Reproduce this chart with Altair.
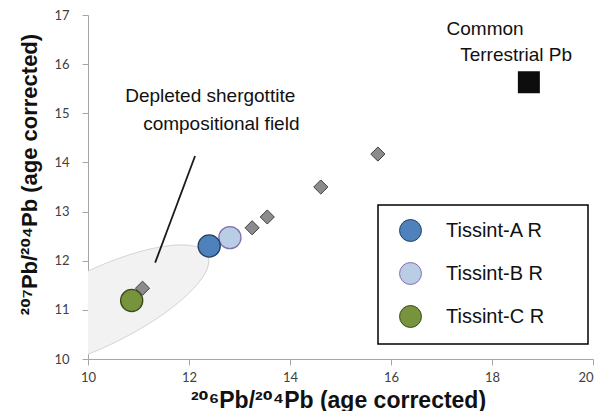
import numpy as np
import pandas as pd
import altair as alt

# ---------------- data ----------------
diamond_x = [11.08, 13.25, 13.55, 14.61, 15.74]
diamond_y = [11.44, 12.67, 12.89, 13.50, 14.17]

samples = ["Tissint-A R", "Tissint-B R", "Tissint-C R"]
sample_x = [12.40, 12.81, 10.865]
sample_y = [12.30, 12.47, 11.19]
sample_fill = ["#4f81bd", "#b9cde5", "#77933c"]
sample_stroke = ["#243f60", "#8470b0", "#3a4a1c"]
draw_order = [1, 2, 0]  # B, C, A (A drawn on top)

terr_x = [18.73]
terr_y = [15.63]

common_text = ["Common", "Terrestrial Pb"]
common_x = [17.10, 17.37]
common_y = [16.72, 16.18]

field_text = ["Depleted shergottite", "compositional field"]
field_x = [12.42, 12.64]
field_y = [15.36, 14.79]

pointer_x = [12.12, 11.33]
pointer_y = [14.13, 11.96]

# depleted-shergottite field: ellipse (center in data units, axes in px)
ell_cx, ell_cy = 10.198, 11.03
ell_a, ell_b, ell_deg = 122.0, 38.0, 26.0
PX_X, PX_Y = 50.5, 49.14

th = np.radians(ell_deg)
c, s = np.cos(th), np.sin(th)
xr = np.sqrt(ell_a**2 * c**2 + ell_b**2 * s**2)
dx = np.linspace(-xr, xr, 301)
A = s**2 / ell_a**2 + c**2 / ell_b**2
B = 2 * dx * (c * s / ell_a**2 - s * c / ell_b**2)
C = dx**2 * (c**2 / ell_a**2 + s**2 / ell_b**2) - 1
disc = np.clip(B**2 - 4 * A * C, 0, None)
y_hi = (-B + np.sqrt(disc)) / (2 * A)
y_lo = (-B - np.sqrt(disc)) / (2 * A)
ell_df = pd.DataFrame({
    "x": ell_cx + dx / PX_X,
    "ylo": ell_cy + y_lo / PX_Y,
    "yhi": ell_cy + y_hi / PX_Y,
})

FONT = "Liberation Sans, Arial, DejaVu Sans, sans-serif"
LBL_FONT = "Lato, Liberation Sans, sans-serif"

xscale = alt.Scale(domain=[10, 20], nice=False, zero=False)
yscale = alt.Scale(domain=[10, 17], nice=False, zero=False)

xaxis = alt.Axis(
    title="²⁰⁶Pb/²⁰⁴Pb (age corrected)", values=[10, 12, 14, 16, 18, 20],
    grid=False, domainColor="#a6a6a6", tickColor="#a6a6a6", tickSize=6,
    labelFont=LBL_FONT, labelFontSize=13, labelColor="#404040", labelPadding=6,
    labelFlush=False,
    labelAlign={"condition": {"test": "datum.value >= 20", "value": "right"}, "value": "center"},
    titleFont=FONT, titleFontSize=23, titleFontWeight="bold", titleColor="#111111",
    titleX=250, titleY=41, titleBaseline="middle", titleAlign="center",
)
yaxis = alt.Axis(
    title="²⁰⁷Pb/²⁰⁴Pb (age corrected)", values=[10, 11, 12, 13, 14, 15, 16, 17],
    grid=False, domainColor="#a6a6a6", tickColor="#a6a6a6", tickSize=6,
    labelFont=LBL_FONT, labelFontSize=13, labelColor="#404040", labelPadding=13,
    labelFlush=False,
    titleFont=FONT, titleFontSize=22, titleFontWeight="bold", titleColor="#111111",
    titleX=-59, titleY=159, titleBaseline="middle", titleAlign="center", titleAngle=270,
)

ellipse = alt.Chart(ell_df).mark_area(
    fill="#f2f2f2", stroke="#cfcfcf", strokeWidth=1, clip=True
).encode(
    x=alt.X("x:Q", scale=xscale, axis=xaxis),
    y=alt.Y("ylo:Q", scale=yscale, axis=yaxis),
    y2="yhi:Q",
)

pointer = alt.Chart(pd.DataFrame({"x": pointer_x, "y": pointer_y})).mark_line(
    color="#1a1a1a", strokeWidth=1.8
).encode(x="x:Q", y="y:Q")

diamonds = alt.Chart(pd.DataFrame({"x": diamond_x, "y": diamond_y})).mark_point(
    shape="diamond", filled=True, fill="#8c8c8c", stroke="#3f3f3f",
    strokeWidth=1, size=200, opacity=1
).encode(x="x:Q", y="y:Q")

terr = alt.Chart(pd.DataFrame({"x": terr_x, "y": terr_y})).mark_point(
    shape="square", filled=True, fill="#0d0d0d", stroke="#0d0d0d",
    size=400, opacity=1
).encode(x="x:Q", y="y:Q")

circ_df = pd.DataFrame({
    "sample": [samples[i] for i in draw_order],
    "x": [sample_x[i] for i in draw_order],
    "y": [sample_y[i] for i in draw_order],
})
PAD = "\u2800\u2800"
circles = alt.Chart(circ_df).mark_circle(
    size=490, opacity=1, strokeWidth=1.3
).encode(
    x="x:Q", y="y:Q",
    fill=alt.Fill(
        "sample:N",
        scale=alt.Scale(domain=samples, range=sample_fill),
        legend=alt.Legend(
            title=None,
            orient="none", legendX=290, legendY=190,
            strokeColor="#000000", fillColor="#ffffff", padding=14,
            symbolType="circle", symbolSize=480, symbolStrokeColor="#404040",
            symbolStrokeWidth=1, symbolOffset=7, labelOffset=24,
            labelFont=FONT, labelFontSize=20, labelColor="#111111",
            labelLimit=300, rowPadding=16,
            labelExpr="datum.label + '" + PAD + "'",
        ),
    ),
    stroke=alt.Stroke(
        "sample:N",
        scale=alt.Scale(domain=samples, range=sample_stroke),
        legend=None,
    ),
)

common = alt.Chart(pd.DataFrame({"x": common_x, "y": common_y, "t": common_text})).mark_text(
    align="left", baseline="middle", font=FONT, fontSize=19, color="#111111"
).encode(x="x:Q", y="y:Q", text="t:N")

field = alt.Chart(pd.DataFrame({"x": field_x, "y": field_y, "t": field_text})).mark_text(
    align="center", baseline="middle", font=FONT, fontSize=19, color="#111111"
).encode(x="x:Q", y="y:Q", text="t:N")

chart = alt.layer(ellipse, pointer, diamonds, terr, circles, common, field).properties(
    width=505, height=344,
    autosize=alt.AutoSizeParams(type="none"),
    padding={"left": 80, "top": 7, "right": 1, "bottom": 52},
).configure_view(stroke=None).configure_legend(strokeWidth=1.5)

chart.save("out.html", embed_options={"renderer": "svg", "actions": False})
